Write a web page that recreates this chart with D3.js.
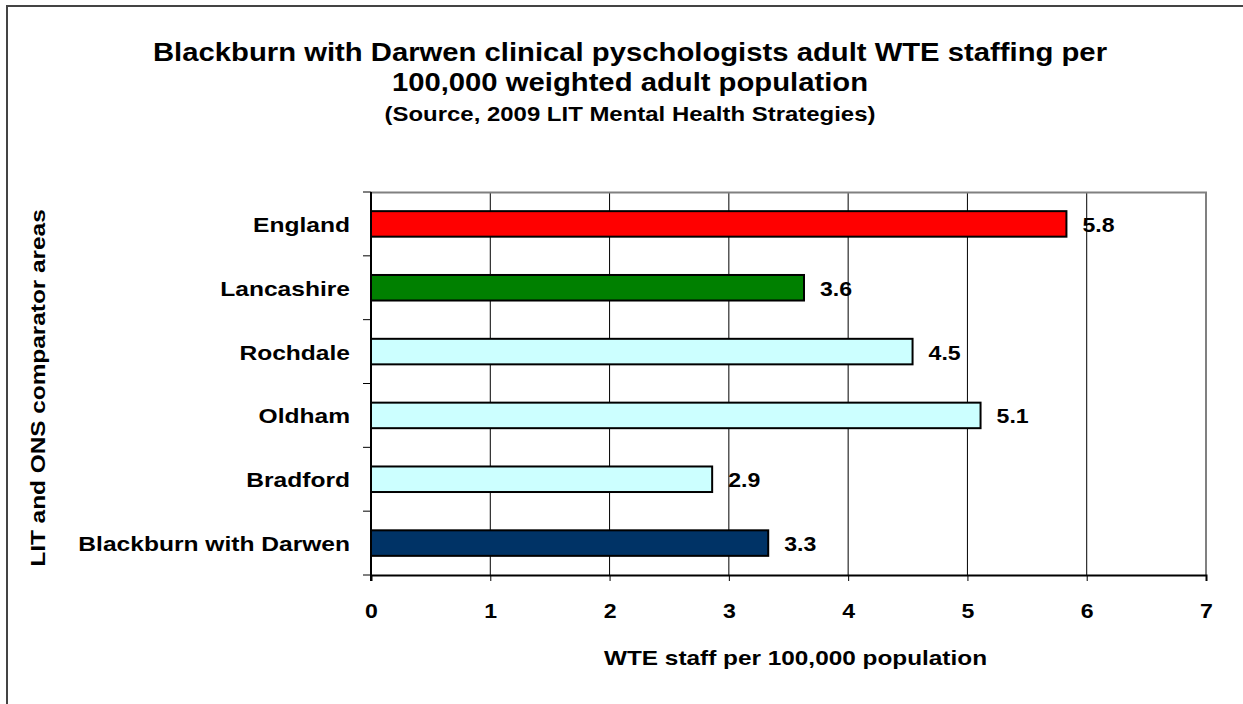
<!DOCTYPE html>
<html>
<head>
<meta charset="utf-8">
<script src="https://cdn.jsdelivr.net/npm/d3@7"></script>
<style>
  body { margin: 0; background: #fff; }
  text { font-family: "Liberation Sans", Arial, sans-serif; font-weight: bold; fill: #000; }
</style>
</head>
<body>
<div id="main_div"></div>
<script>
// data
var areas = ["England", "Lancashire", "Rochdale", "Oldham", "Bradford", "Blackburn with Darwen"];
var wteValues = [5.83, 3.63, 4.54, 5.11, 2.86, 3.33];
var barColours = ["#ff0000", "#008000", "#ccffff", "#ccffff", "#ccffff", "#003366"];
var xTicks = [0, 1, 2, 3, 4, 5, 6, 7];
var titleLines = ["Blackburn with Darwen clinical pyschologists adult WTE staffing per",
                  "100,000 weighted adult population"];
var sourceLine = "(Source, 2009 LIT Mental Health Strategies)";
var xTitle = "WTE staff per 100,000 population";
var yTitle = "LIT and ONS comparator areas";

var W = 1243, H = 704;
var margin = {top: 192, right: 37, bottom: 129, left: 371};
var width = W - margin.left - margin.right,
    height = H - margin.top - margin.bottom;

// excel text in the picture is drawn a bit wider than the font, stretch it along its line
function stretch(k){
    return function(sel){
        sel.each(function(){
            var w = this.getComputedTextLength();
            d3.select(this).attr("textLength", w*k).attr("lengthAdjust", "spacingAndGlyphs");
        });
    };
}

var svg = d3.select("#main_div").append("svg")
    .attr("width", W)
    .attr("height", H)
    .style("display", "block");

// outer chart border (right/bottom fall outside the picture)
svg.append("rect")
    .attr("x", 7).attr("y", 6)
    .attr("width", W + 20).attr("height", H + 20)
    .attr("fill", "none")
    .attr("stroke", "#444")
    .attr("stroke-width", 2);

// titles
svg.selectAll(".title")
    .data(titleLines)
  .enter().append("text")
    .attr("class", "title")
    .attr("x", 630)
    .attr("y", function(d, i){ return 61 + i*30; })
    .attr("text-anchor", "middle")
    .style("font-size", "25px")
    .text(function(d){ return d; })
    .call(stretch(1.17));

svg.append("text")
    .attr("x", 630)
    .attr("y", 121)
    .attr("text-anchor", "middle")
    .style("font-size", "21px")
    .text(sourceLine)
    .call(stretch(1.14));

var g = svg.append("g")
    .attr("transform", "translate(" + margin.left + "," + margin.top + ")");

var x = d3.scaleLinear().domain([0, 7]).range([0, width]);
var y = d3.scaleBand().domain(areas).range([0, height]).paddingInner(0.6).paddingOuter(0.3);

// gridlines
g.selectAll(".grid")
    .data(xTicks.slice(1, -1))
  .enter().append("line")
    .attr("x1", function(d){ return x(d); })
    .attr("x2", function(d){ return x(d); })
    .attr("y1", 0).attr("y2", height)
    .attr("stroke", "#000")
    .attr("stroke-width", 1);

// plot area border (top and right are grey)
g.append("path")
    .attr("d", "M0,0.5H" + x(7) + "V" + height)
    .attr("fill", "none")
    .attr("stroke", "#808080")
    .attr("stroke-width", 2);

// bars
var rows = areas.map(function(a, i){ return {area: a, value: wteValues[i], colour: barColours[i]}; });

g.selectAll(".bar")
    .data(rows)
  .enter().append("rect")
    .attr("x", x(0))
    .attr("y", function(d){ return y(d.area); })
    .attr("width", function(d){ return x(d.value) - x(0); })
    .attr("height", y.bandwidth())
    .attr("fill", function(d){ return d.colour; })
    .attr("stroke", "#000")
    .attr("stroke-width", 2);

g.selectAll(".val")
    .data(rows)
  .enter().append("text")
    .attr("x", function(d){ return x(d.value) + 16; })
    .attr("y", function(d){ return y(d.area) + y.bandwidth()/2 + 8; })
    .style("font-size", "21px")
    .text(function(d){ return d.value.toFixed(1); })
    .call(stretch(1.1));

// x axis
var xAxis = g.append("g")
    .attr("transform", "translate(0," + height + ")")
    .call(d3.axisBottom(x).tickValues(xTicks).tickSize(6).tickPadding(22).tickFormat(d3.format("d")));
xAxis.select(".domain").attr("stroke", "#000").attr("stroke-width", 2);
xAxis.selectAll(".tick line").attr("stroke", "#000");
xAxis.selectAll(".tick text")
    .style("font-size", "21px")
    .style("font-family", "Liberation Sans, Arial, sans-serif")
    .call(stretch(1.1));

// y axis: line plus ticks on category boundaries
g.append("line")
    .attr("x1", 0).attr("x2", 0)
    .attr("y1", 0).attr("y2", height + 6)
    .attr("stroke", "#000").attr("stroke-width", 2);

g.selectAll(".ytick")
    .data(d3.range(areas.length + 1))
  .enter().append("line")
    .attr("x1", -8).attr("x2", 0)
    .attr("y1", function(i){ return i*y.step(); })
    .attr("y2", function(i){ return i*y.step(); })
    .attr("stroke", "#000");

g.selectAll(".cat")
    .data(areas)
  .enter().append("text")
    .attr("x", -21)
    .attr("y", function(d){ return y(d) + y.bandwidth()/2 + 8; })
    .attr("text-anchor", "end")
    .style("font-size", "21px")
    .text(function(d){ return d; })
    .call(stretch(1.17));

// axis titles
g.append("text")
    .attr("x", width/2 + 7)
    .attr("y", height + 90)
    .attr("text-anchor", "middle")
    .style("font-size", "21px")
    .text(xTitle)
    .call(stretch(1.16));

svg.append("text")
    .attr("transform", "rotate(-90)")
    .attr("x", -388)
    .attr("y", 45)
    .attr("text-anchor", "middle")
    .style("font-size", "21px")
    .text(yTitle)
    .call(stretch(1.16));
</script>
</body>
</html>
